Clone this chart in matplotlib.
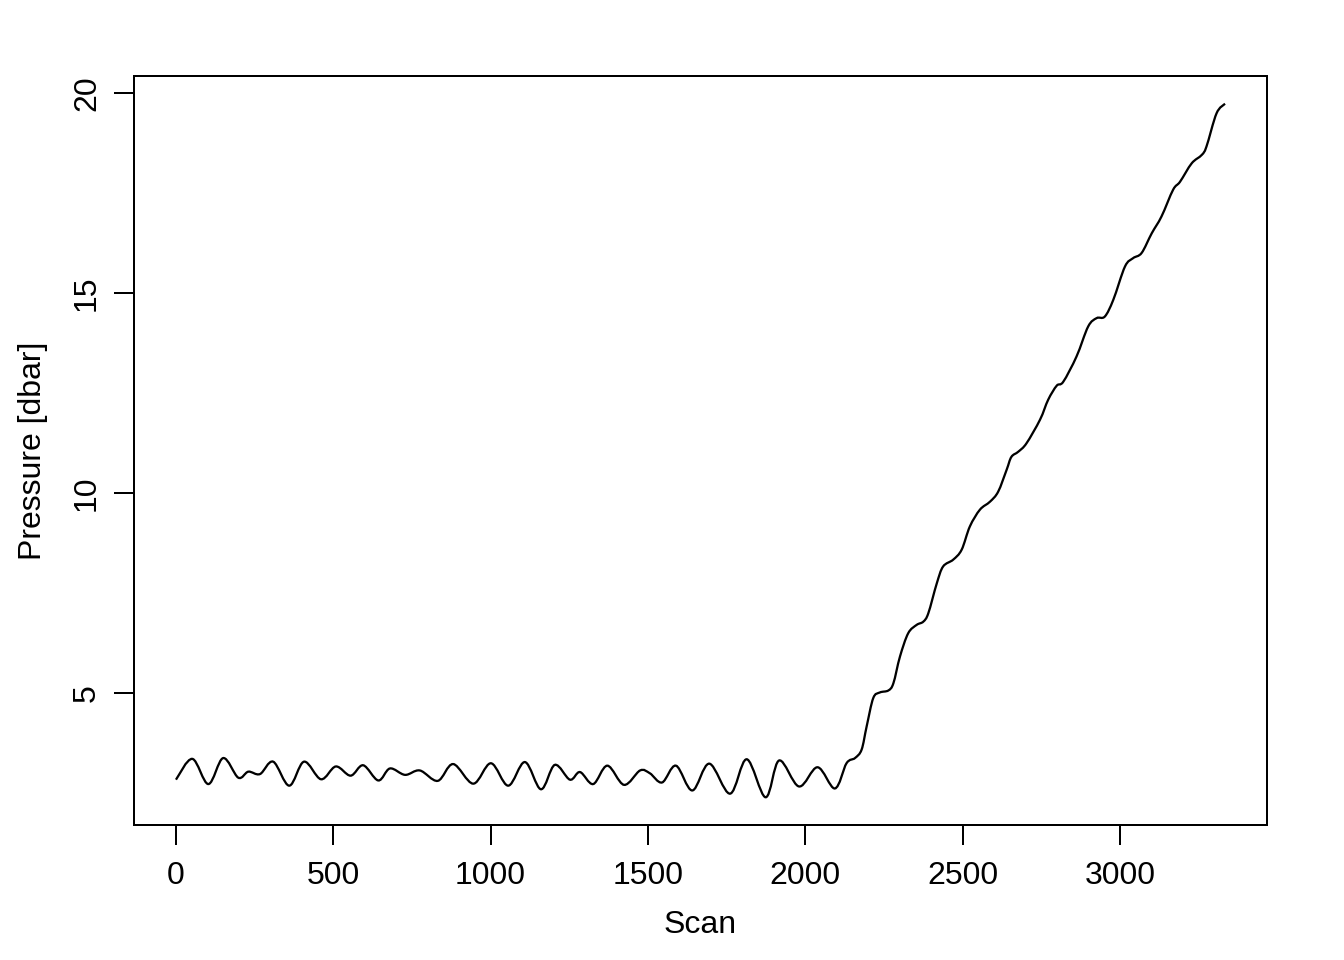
import matplotlib
matplotlib.use("Agg")
import matplotlib.pyplot as plt
import numpy as np
from matplotlib.path import Path
from matplotlib.patches import PathPatch

plt.rcParams["font.family"] = ["Liberation Sans", "DejaVu Sans"]
plt.rcParams["font.size"] = 12

# values (peaks, troughs and shoulders)
scan = [0, 52, 103, 150, 198, 230, 267, 309, 360, 407, 461, 508, 555, 595,
        643, 680, 728, 775, 832, 881, 945, 1001, 1056, 1109, 1160, 1204, 1252,
        1284, 1326, 1371, 1424, 1475, 1506, 1545, 1589, 1641, 1695, 1761, 1814,
        1874, 1917, 1980, 2039, 2094, 2131, 2158, 2179, 2195, 2216, 2237, 2264,
        2280, 2301, 2327, 2354, 2375, 2391, 2418, 2438, 2470, 2497, 2523, 2555,
        2587, 2613, 2640, 2655, 2677, 2703, 2746, 2772, 2799, 2820, 2862, 2899,
        2926, 2952, 2979, 3016, 3042, 3069, 3101, 3132, 3169, 3191, 3228, 3260,
        3275, 3307, 3334]
pressure = [2.83, 3.35, 2.72, 3.37, 2.88, 3.03, 2.97, 3.28, 2.68, 3.28, 2.84,
            3.16, 2.93, 3.19, 2.81, 3.11, 2.95, 3.06, 2.80, 3.22, 2.73, 3.24,
            2.68, 3.27, 2.59, 3.20, 2.83, 3.02, 2.72, 3.18, 2.70, 3.06, 2.99,
            2.76, 3.18, 2.56, 3.23, 2.48, 3.34, 2.39, 3.31, 2.66, 3.14, 2.61,
            3.24, 3.37, 3.58, 4.16, 4.87, 5.01, 5.06, 5.24, 5.91, 6.49, 6.70,
            6.78, 6.99, 7.74, 8.16, 8.33, 8.58, 9.16, 9.58, 9.78, 10.03, 10.58,
            10.90, 11.03, 11.24, 11.83, 12.33, 12.68, 12.78, 13.41, 14.16, 14.37,
            14.41, 14.83, 15.66, 15.87, 16.00, 16.49, 16.91, 17.58, 17.78, 18.24,
            18.45, 18.66, 19.49, 19.73]

xticks = [0, 500, 1000, 1500, 2000, 2500, 3000]
yticks = [5, 10, 15, 20]


def smooth_path(x, y):
    # catmull-rom through the read points, drawn as cubic bezier segments
    pts = np.column_stack([x, y]).astype(float)
    ext = np.vstack([pts[0], pts, pts[-1]])
    verts = [pts[0]]
    codes = [Path.MOVETO]
    for i in range(1, len(ext) - 2):
        p0, p1, p2, p3 = ext[i - 1], ext[i], ext[i + 1], ext[i + 2]
        verts += [p1 + (p2 - p0) / 6.0, p2 - (p3 - p1) / 6.0, p2]
        codes += [Path.CURVE4] * 3
    return Path(verts, codes)


fig = plt.figure(figsize=(7, 5), dpi=192)
ax = fig.add_axes([134 / 1344, 135 / 960, 1133 / 1344, 749 / 960])

ax.add_patch(PathPatch(smooth_path(scan, pressure), fill=False,
                       edgecolor="black", linewidth=0.85))

# R style 4% padding
xr = max(scan) - min(scan)
yr = max(pressure) - min(pressure)
ax.set_xlim(min(scan) - 0.04 * xr, max(scan) + 0.04 * xr)
ax.set_ylim(min(pressure) - 0.04 * yr, max(pressure) + 0.04 * yr)

ax.set_xticks(xticks)
ax.set_yticks(yticks)
ax.tick_params(direction="out", length=7.5, width=0.75, pad=6, labelsize=12)
ax.tick_params(axis="y", labelrotation=90, pad=4.5)
for lab in ax.get_yticklabels():
    lab.set_va("center")
for sp in ax.spines.values():
    sp.set_linewidth(0.75)

ax.set_xlabel("Scan", fontsize=12, labelpad=7)
ax.set_ylabel("Pressure [dbar]", fontsize=12, labelpad=9)

fig.savefig("out.png", dpi=192)
